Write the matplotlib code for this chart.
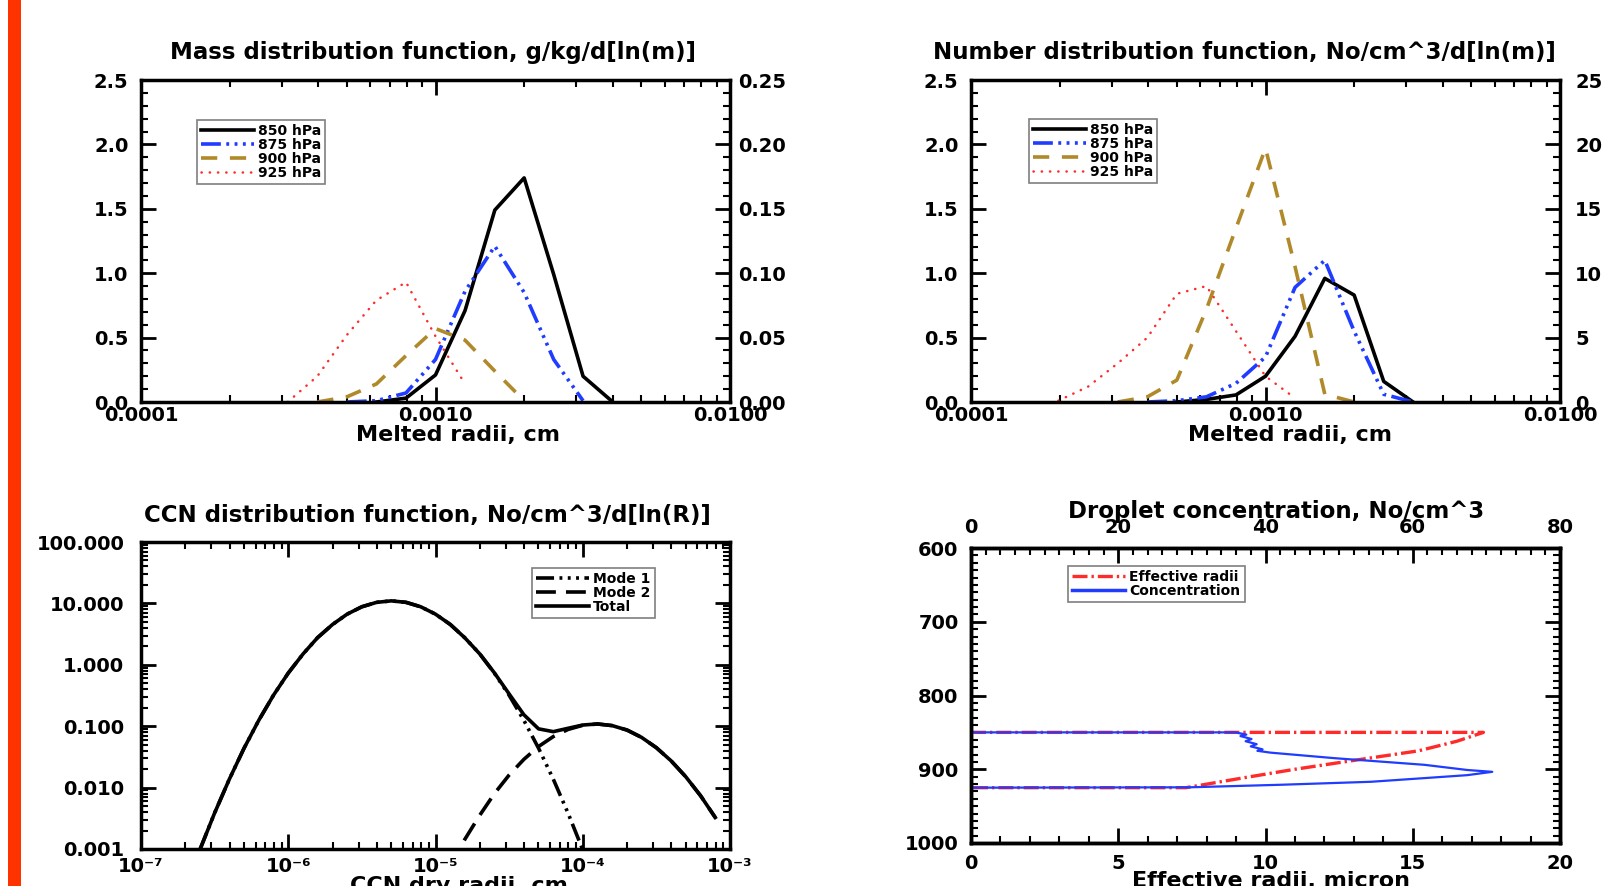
import matplotlib
matplotlib.use("Agg")
import matplotlib.pyplot as plt
import numpy as np
from matplotlib.lines import Line2D
from matplotlib.patches import Rectangle
from matplotlib.ticker import (FixedFormatter, FixedLocator, FormatStrFormatter,
                               LogLocator, MultipleLocator, NullFormatter)

plt.rcParams["font.family"] = ["DejaVu Sans"]
plt.rcParams["font.weight"] = "bold"

nan = np.nan

# melted radii bins (cm) used by the two upper panels
radii = [1.98e-4, 2.50e-4, 3.15e-4, 3.97e-4, 5.00e-4, 6.30e-4, 7.94e-4,
         1.00e-3, 1.26e-3, 1.59e-3, 2.00e-3, 2.52e-3, 3.17e-3, 4.00e-3]
levels = ["850 hPa", "875 hPa", "900 hPa", "925 hPa"]

mass_850 = [nan, nan, nan, nan, nan, 0.0, 0.03, 0.21, 0.71, 1.49, 1.74, 0.99, 0.20, 0.0]
mass_875 = [nan, nan, nan, nan, 0.0, 0.01, 0.07, 0.33, 0.86, 1.21, 0.85, 0.33, 0.01, nan]
mass_900 = [nan, nan, nan, 0.0, 0.04, 0.14, 0.36, 0.57, 0.48, 0.24, 0.01, nan, nan, nan]
mass_925 = [nan, nan, 0.0, 0.20, 0.52, 0.79, 0.93, 0.51, 0.14, nan, nan, nan, nan, nan]

num_850 = [nan, nan, nan, nan, 0.0, 0.02, 0.055, 0.20, 0.51, 0.96, 0.83, 0.16, 0.0, nan]
num_875 = [nan, nan, nan, 0.0, 0.01, 0.04, 0.145, 0.35, 0.89, 1.10, 0.55, 0.06, 0.0, nan]
num_900 = [nan, nan, 0.0, 0.04, 0.17, 0.72, 1.35, 1.97, 1.05, 0.06, 0.0, nan, nan, nan]
num_925 = [0.01, 0.12, 0.30, 0.50, 0.84, 0.90, 0.55, 0.20, 0.03, nan, nan, nan, nan, nan]

# CCN dry radii (cm) and distributions
ccn_radii = [2.51e-7, 3.16e-7, 3.98e-7, 5.01e-7, 6.31e-7, 7.94e-7,
             1.00e-6, 1.26e-6, 1.58e-6, 2.00e-6, 2.51e-6, 3.16e-6, 3.98e-6, 5.01e-6, 6.31e-6, 7.94e-6,
             1.00e-5, 1.26e-5, 1.58e-5, 2.00e-5, 2.51e-5, 3.16e-5, 3.98e-5, 5.01e-5, 6.31e-5, 7.94e-5,
             1.00e-4, 1.26e-4, 1.58e-4, 2.00e-4, 2.51e-4, 3.16e-4, 3.98e-4, 5.01e-4, 6.31e-4, 7.94e-4]
ccn_mode1 = [0.00097, 0.00385, 0.0137, 0.0438, 0.125, 0.320, 0.733, 1.50, 2.76, 4.54,
             6.68, 8.81, 10.4, 11.0, 10.4, 8.81, 6.68, 4.54, 2.76, 1.50,
             0.733, 0.320, 0.125, 0.0438, 0.0137, 0.00385, 0.00097]
ccn_mode2 = [0.00051, 0.00143, 0.00356, 0.00796, 0.0160, 0.0288, 0.0467, 0.0678, 0.0885, 0.1035,
             0.1086, 0.1023, 0.0865, 0.0657, 0.0447, 0.0273, 0.0150, 0.00738, 0.00326]
ccn_total = [0.00097, 0.00385, 0.0137, 0.0438, 0.125, 0.320, 0.733, 1.50, 2.76, 4.54,
             6.68, 8.81, 10.4, 11.0, 10.4, 8.81, 6.68, 4.54, 2.76, 1.50,
             0.741, 0.336, 0.154, 0.0905, 0.0815, 0.0924, 0.1045, 0.1088, 0.1024, 0.0865,
             0.0657, 0.0447, 0.0273, 0.0150, 0.00738, 0.00326]

# vertical profiles (pressure, hPa)
eff_p = [850, 850, 862, 875, 888, 900, 912, 925, 925]
eff_r = [0.0, 17.4, 16.5, 15.2, 13.0, 11.0, 9.2, 7.3, 0.0]
conc_p = [850, 850, 853, 855, 859, 862, 866, 869, 873, 875, 877.5,
          885, 894, 901, 903.5, 908, 912, 917, 921, 924.5, 925]
conc = [0.0, 35.9, 37.4, 36.6, 38.1, 37.3, 38.8, 38.0, 39.6, 38.9, 40.7,
        49.4, 61.6, 67.4, 70.8, 67.4, 61.6, 54.3, 42.2, 29.6, 0.0]

W, H = 1612, 886
TICK = 14
BLUE = "#1f3cff"
OLIVE = "#b08a2a"
RED = "#ff2a2a"

styles = [
    dict(color="black", lw=2.6, ls="-"),
    dict(color=BLUE, lw=2.6, ls=(0, (5.5, 1.5, 0.8, 1.5, 0.8, 1.5, 0.8, 1.5))),
    dict(color=OLIVE, lw=2.6, ls=(0, (4.5, 3.5))),
    dict(color=RED, lw=1.8, ls=(0, (0.1, 3.2)), dash_capstyle="round"),
]


def px_axes(left, right, top, bottom):
    return fig.add_axes([left / W, 1 - bottom / H, (right - left) / W, (bottom - top) / H])


def box_ticks(ax, **kw):
    ax.tick_params(which="both", direction="in", width=2, labelsize=TICK, **kw)
    ax.tick_params(which="major", length=11)
    ax.tick_params(which="minor", length=5, width=1.5)
    for s in ax.spines.values():
        s.set_linewidth(2.5)


def legend(ax, handles, labels, anchor):
    leg = ax.legend(handles, labels, loc="upper left", bbox_to_anchor=anchor, borderaxespad=0,
                    fancybox=False, edgecolor="#7f7f7f", framealpha=1, prop={"size": 10, "weight": "bold"},
                    handlelength=3.8, handletextpad=0.3, labelspacing=0.0, borderpad=0.3)
    leg.get_frame().set_linewidth(1.2)
    return leg


def melted_panel(ax, series, right_max, right_step, right_fmt, right_pad, anchor):
    lines = []
    for vals, st, lab in zip(series, styles, levels):
        lines += ax.plot(radii, vals, label=lab, **st)
    ax.set_xscale("log")
    ax.set_xlim(1e-4, 1e-2)
    ax.set_ylim(0, 2.5)
    ax.xaxis.set_major_locator(FixedLocator([1e-4, 1e-3, 1e-2]))
    ax.xaxis.set_major_formatter(FixedFormatter(["0.0001", "0.0010", "0.0100"]))
    ax.xaxis.set_minor_locator(LogLocator(base=10, subs=np.arange(2, 10)))
    ax.xaxis.set_minor_formatter(NullFormatter())
    ax.yaxis.set_major_locator(MultipleLocator(0.5))
    ax.yaxis.set_minor_locator(MultipleLocator(0.1))
    ax.yaxis.set_major_formatter(FormatStrFormatter("%.1f"))
    axr = ax.twinx()
    axr.set_ylim(0, right_max)
    axr.yaxis.set_major_locator(MultipleLocator(right_step))
    axr.yaxis.set_major_formatter(FormatStrFormatter(right_fmt))
    axr.tick_params(axis="y", length=0, labelsize=TICK, pad=right_pad)
    for s in axr.spines.values():
        s.set_visible(False)
    box_ticks(ax, top=True, right=True, labelright=False)
    ax.tick_params(axis="x", pad=3)
    ax.tick_params(axis="y", pad=9)
    legend(axr, lines, levels, anchor)


fig = plt.figure(figsize=(W / 100, H / 100), dpi=100)
fig.add_artist(Rectangle((8 / W, 0), 13 / W, 1, transform=fig.transFigure,
                         facecolor="#ff3300", edgecolor="none"))

# --- mass distribution ---
ax1 = px_axes(141, 730, 80, 402)
melted_panel(ax1, [mass_850, mass_875, mass_900, mass_925], 0.25, 0.05, "%.2f", 6, (0.095, 0.876))
fig.text(433 / W, 1 - 59 / H, "Mass distribution function, g/kg/d[ln(m)]",
         ha="center", va="baseline", fontsize=16.5)
fig.text(458 / W, 1 - 441 / H, "Melted radii, cm", ha="center", va="baseline", fontsize=16)

# --- number distribution ---
ax2 = px_axes(971, 1560, 80, 402)
melted_panel(ax2, [num_850, num_875, num_900, num_925], 25, 5, "%d", 11, (0.098, 0.879))
fig.text(1244 / W, 1 - 59 / H, "Number distribution function, No/cm^3/d[ln(m)]",
         ha="center", va="baseline", fontsize=16.5)
fig.text(1290 / W, 1 - 441 / H, "Melted radii, cm", ha="center", va="baseline", fontsize=16)

# --- CCN distribution ---
ax3 = px_axes(141, 730, 542, 849)
m1, = ax3.plot(ccn_radii[:27], ccn_mode1, color="black", lw=2.6,
               ls=(0, (5, 1.5, 0.8, 1.5, 0.8, 1.5, 0.8, 1.5)))
m2, = ax3.plot(ccn_radii[17:], ccn_mode2, color="black", lw=2.6, ls=(0, (5.5, 2.8)))
tot, = ax3.plot(ccn_radii, ccn_total, color="black", lw=2.6, ls="-")
ax3.set_xscale("log")
ax3.set_yscale("log")
ax3.set_xlim(1e-7, 1e-3)
ax3.set_ylim(1e-3, 1e2)
ax3.xaxis.set_major_locator(FixedLocator([1e-7, 1e-6, 1e-5, 1e-4, 1e-3]))
ax3.xaxis.set_major_formatter(FixedFormatter(["10⁻⁷", "10⁻⁶", "10⁻⁵", "10⁻⁴", "10⁻³"]))
ax3.yaxis.set_major_locator(FixedLocator([1e-3, 1e-2, 1e-1, 1, 10, 100]))
ax3.yaxis.set_major_formatter(FixedFormatter(["0.001", "0.010", "0.100", "1.000", "10.000", "100.000"]))
for axis in (ax3.xaxis, ax3.yaxis):
    axis.set_minor_locator(LogLocator(base=10, subs=np.arange(2, 10), numticks=20))
    axis.set_minor_formatter(NullFormatter())
box_ticks(ax3, top=True, right=True)
ax3.tick_params(axis="x", pad=6)
ax3.tick_params(axis="y", pad=12)
legend(ax3, [m1, m2, tot], ["Mode 1", "Mode 2", "Total"], (0.664, 0.915))
fig.text(427 / W, 1 - 522 / H, "CCN distribution function, No/cm^3/d[ln(R)]",
         ha="center", va="baseline", fontsize=16.5)
fig.text(459 / W, 1 - 876 / H, "CCN dry radii, cm", ha="center", va="top", fontsize=16)

# --- droplet profiles ---
ax4 = px_axes(971, 1560, 548, 843)
er, = ax4.plot(eff_r, eff_p, color=RED, lw=2.4, ls=(0, (4.5, 1.2, 0.7, 1.2)))
ax4.set_xlim(0, 20)
ax4.set_ylim(1000, 600)
ax4.xaxis.set_major_locator(MultipleLocator(5))
ax4.xaxis.set_minor_locator(MultipleLocator(1))
ax4.yaxis.set_major_locator(MultipleLocator(100))
ax4.yaxis.set_minor_locator(MultipleLocator(10))
ax4t = ax4.twiny()
ax4t.plot(conc, conc_p, color=BLUE, lw=1.6, ls="-")
ax4t.set_xlim(0, 80)
ax4t.xaxis.set_major_locator(MultipleLocator(20))
ax4t.xaxis.set_minor_locator(MultipleLocator(2))
box_ticks(ax4, top=False, right=True)
box_ticks(ax4t, top=True)
ax4.tick_params(axis="x", pad=8)
ax4.tick_params(axis="y", pad=9)
ax4t.tick_params(axis="x", pad=8)
legend(ax4t, [Line2D([], [], color=RED, lw=2.4, ls=(0, (4.5, 1.2, 0.7, 1.2))),
              Line2D([], [], color=BLUE, lw=2.5)],
       ["Effective radii", "Concentration"], (0.165, 0.939))
fig.text(1276 / W, 1 - 518 / H, "Droplet concentration, No/cm^3",
         ha="center", va="baseline", fontsize=16.5)
fig.text(1271 / W, 1 - 871 / H, "Effective radii, micron", ha="center", va="top", fontsize=16)

fig.savefig("out.png", dpi=100)
